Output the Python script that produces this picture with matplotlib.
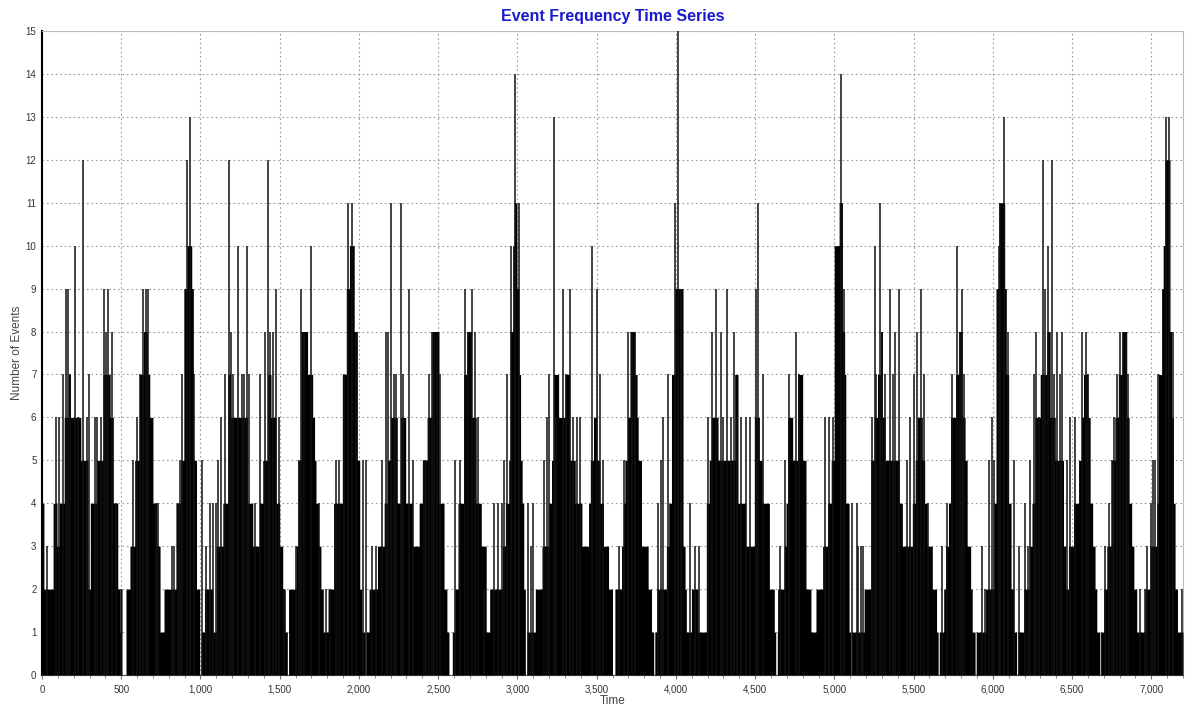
import matplotlib
matplotlib.use("Agg")
import matplotlib.pyplot as plt
from matplotlib.ticker import FuncFormatter, MultipleLocator
import numpy as np

plt.rcParams['font.family'] = ['Liberation Sans', 'DejaVu Sans']

# Solid level of the series: (time at which level starts, level)
seg_time = [
    0, 12, 70, 95, 110, 140, 165, 180, 245, 290, 305, 345, 385, 430, 450, 478, 490, 495, 505,
    530, 555, 585, 615, 640, 665, 680, 700, 725, 745, 770, 845, 875, 895, 915, 945, 955, 975, 995,
    1005, 1025, 1078, 1099, 1141, 1172, 1190, 1235, 1298, 1330, 1372, 1393, 1424, 1445, 1477, 1500, 1519, 1535, 1548,
    1556, 1603, 1615, 1634, 1676, 1708, 1720, 1729, 1745, 1760, 1775, 1805, 1840, 1895, 1920, 1940, 1970, 1990, 2005, 2018,
    2039, 2045, 2064, 2117, 2159, 2180, 2200, 2242, 2263, 2295, 2337, 2380, 2400, 2430, 2460, 2505, 2537, 2555, 2568,
    2589, 2605, 2625, 2660, 2680, 2710, 2740, 2772, 2803, 2825,
    2830, 2905, 2924, 2945, 2955, 2970, 2980, 2997, 3010, 3020, 3030, 3040, 3050, 3060, 3113, 3155, 3197, 3215, 3229,
    3260, 3300, 3330, 3365, 3407, 3449, 3460, 3480, 3501, 3520, 3543, 3575, 3600,
    3615, 3657, 3670, 3678, 3695, 3710, 3741, 3755, 3762, 3783, 3825, 3846, 3860, 3867, 3880, 3940, 3955, 3972, 3993,
    4045, 4058, 4066, 4098, 4140, 4192, 4210, 4224, 4266, 4308, 4371, 4392, 4440,
    4495, 4527, 4545, 4590, 4621, 4630, 4640, 4642, 4684, 4695, 4705, 4737, 4768, 4800, 4821, 4852, 4884, 4926, 4957,
    4980, 4999, 5030, 5051, 5065, 5072, 5093, 5102, 5108, 5188, 5230, 5251, 5272, 5290, 5303, 5320,
    5335, 5410, 5429, 5492, 5510, 5523, 5555, 5570, 5586, 5618, 5645, 5655, 5662, 5690, 5702, 5720, 5733, 5765, 5785,
    5807, 5825, 5838, 5860, 5870, 5888, 5895, 5954, 6006, 6020, 6038, 6075, 6085, 6100, 6115, 6132, 6150, 6158, 6195,
    6230, 6247, 6265,
    6299, 6341, 6362, 6394, 6446, 6460, 6477, 6509, 6541, 6560, 6572, 6600, 6614, 6630, 6645, 6656, 6675, 6680, 6700,
    6719, 6750, 6770, 6792, 6815, 6845, 6860, 6876, 6890, 6908, 6960, 6992, 7034, 7045, 7065, 7075, 7086, 7118, 7128,
    7140, 7150, 7165,
]
seg_level = [
    4, 2, 4, 3, 4, 6, 7, 6, 5, 2, 4, 5, 7, 6, 4, 2, 1, 2, 0,
    2, 3, 5, 7, 8, 7, 6, 4, 3, 1, 2, 4, 5, 9, 10, 9, 5, 2, 0,
    1, 2, 1, 3, 4, 7, 6, 6, 4, 3, 4, 5, 7, 6, 4, 3, 2, 1, 0,
    2, 3, 5, 8, 7, 6, 5, 4, 3, 2, 1, 2, 4, 7, 9, 10, 8, 5, 2, 1,
    0, 1, 2, 3, 4, 5, 6, 4, 6, 4, 3, 4, 5, 6, 8, 4, 2, 1, 0,
    1, 2, 4, 7, 8, 6, 4, 3, 1, 2,
    2, 3, 4, 5, 8, 10, 11, 9, 7, 5, 4, 2, 0, 1, 2, 3, 4, 5, 7,
    6, 7, 5, 4, 3, 4, 5, 6, 5, 4, 3, 2, 0,
    2, 3, 4, 5, 6, 8, 7, 6, 5, 3, 2, 1, 0, 1, 2, 3, 4, 7, 9,
    3, 2, 1, 2, 1, 4, 5, 6, 5, 5, 7, 4, 3,
    6, 5, 4, 2, 1, 0, 1, 2, 3, 4, 6, 5, 7, 5, 2, 1, 2, 3, 4,
    5, 10, 11, 8, 7, 4, 1, 0, 1, 2, 5, 6, 7, 8, 6, 5,
    5, 4, 3, 4, 5, 6, 5, 4, 3, 2, 1, 0, 1, 2, 3, 4, 6, 7, 8,
    6, 5, 3, 2, 1, 0, 1, 2, 4, 9, 11, 9, 7, 4, 2, 1, 0, 1, 2,
    3, 4, 6,
    7, 8, 6, 5, 3, 2, 3, 4, 5, 6, 7, 6, 4, 3, 2, 1, 0, 1, 2,
    3, 5, 6, 7, 8, 6, 4, 3, 2, 1, 2, 3, 4, 7, 9, 10, 12, 8, 6,
    4, 2, 1,
]

# Thin spikes rising above the solid level: (time, count)
spike_time = [
    29, 86, 110, 130, 151, 166, 176, 208, 225, 260, 281, 296, 334, 349, 370, 393, 405, 418, 443, 470, 500,
    575, 600, 617, 638, 655, 672, 722, 733, 820, 835, 858, 870, 885, 912, 931, 960, 1008,
    1036, 1057, 1078, 1099, 1110, 1130, 1152, 1179, 1194, 1204, 1236, 1263, 1273, 1294, 1309, 1341, 1376,
    1410, 1427, 1439, 1456, 1477, 1498, 1530,
    1600, 1620, 1634, 1655, 1697, 1750, 1795, 1815, 1854, 1871, 1905, 1928, 1955, 1980, 2028, 2043,
    2085, 2106, 2144, 2170, 2185, 2200, 2222, 2232, 2263, 2280, 2316, 2340, 2410, 2425, 2442, 2463, 2475,
    2495, 2510,
    2603, 2635, 2669, 2690, 2712, 2730, 2750, 2790,
    2850, 2880, 2903, 2915, 2935, 2960, 2987, 3012, 3065, 3085, 3100, 3170, 3185, 3197, 3231, 3245, 3290,
    3305, 3330, 3350, 3375, 3393, 3470, 3501, 3520, 3540,
    3640, 3672, 3700, 3725, 3740, 3890, 3905, 3920, 3948, 3997, 4014, 4030, 4090, 4120, 4145,
    4205, 4225, 4255, 4283, 4300, 4325, 4345, 4367, 4385, 4410, 4440, 4470, 4505, 4516, 4548,
    4660, 4690, 4715, 4758, 4780, 4940, 4965, 4990, 5045, 5060, 5110, 5140, 5150, 5165, 5180,
    5240, 5255, 5265, 5289, 5300, 5320, 5352, 5370, 5380, 5407, 5460, 5476, 5500, 5520, 5548, 5565, 5590,
    5680, 5710, 5745, 5775, 5790, 5805, 5815, 5930, 5950, 5975, 5995, 6005, 6038, 6045, 6069, 6095, 6132,
    6165, 6205, 6220, 6235, 6258, 6270, 6290, 6316, 6330, 6350, 6372, 6385, 6405, 6425, 6436, 6470, 6488,
    6520, 6560, 6585, 6600,
    6710, 6730, 6750, 6765, 6782, 6800, 6820, 6840, 6855, 6930, 6960, 6975, 7000, 7010, 7025, 7040, 7095,
    7110, 7140, 7195,
]
spike_count = [
    3, 6, 6, 7, 9, 9, 7, 10, 6, 12, 6, 7, 6, 6, 6, 9, 8, 9, 8, 4, 2,
    5, 6, 7, 9, 9, 9, 4, 4, 3, 3, 4, 5, 7, 12, 13, 7, 5,
    3, 4, 4, 4, 5, 6, 7, 12, 8, 7, 10, 7, 7, 10, 7, 4, 7,
    8, 12, 8, 8, 9, 6, 2,
    3, 5, 9, 8, 10, 4, 2, 2, 5, 5, 7, 11, 11, 8, 5, 5,
    3, 3, 5, 8, 8, 11, 7, 7, 11, 7, 9, 5, 5, 5, 7, 8, 8,
    8, 7,
    5, 5, 9, 8, 9, 8, 6, 2,
    4, 4, 4, 5, 7, 10, 14, 11, 4, 3, 4, 5, 6, 7, 13, 6, 9,
    7, 9, 6, 6, 6, 10, 9, 7, 5,
    3, 5, 8, 8, 8, 4, 5, 6, 7, 11, 15, 9, 4, 3, 3,
    6, 8, 9, 8, 6, 9, 6, 8, 6, 6, 6, 6, 9, 11, 7,
    3, 5, 7, 8, 7, 6, 6, 6, 14, 9, 4, 4, 3, 3, 3,
    6, 10, 7, 11, 8, 7, 9, 7, 8, 9, 5, 6, 7, 8, 9, 7, 4,
    3, 4, 7, 10, 8, 9, 7, 3, 2, 5, 6, 5, 10, 11, 13, 8, 5,
    3, 4, 3, 5, 7, 8, 6, 12, 9, 10, 12, 7, 8, 7, 8, 5, 6,
    6, 8, 8, 7,
    3, 4, 5, 6, 7, 8, 8, 8, 7, 2, 2, 3, 4, 5, 5, 7, 13,
    13, 8, 2,
]

x_max = 7200
y_max = 15
title = "Event Frequency Time Series"
x_label = "Time"
y_label = "Number of Events"

fig = plt.figure(figsize=(11.87, 7.06), dpi=100)
ax = fig.add_axes([42 / 1187, 1 - 675 / 706, (1183 - 42) / 1187, (675 - 31) / 706])

xs = list(seg_time) + [x_max]
ys = list(seg_level) + [seg_level[-1]]
ax.fill_between(xs, 0, ys, step='post', color='black', lw=0, zorder=3)
ax.vlines(spike_time, 0, spike_count, color='#111111', lw=1.1, zorder=3)

ax.set_xlim(0, x_max)
ax.set_ylim(0, y_max)
ax.xaxis.set_major_locator(MultipleLocator(500))
ax.xaxis.set_minor_locator(MultipleLocator(100))
ax.yaxis.set_major_locator(MultipleLocator(1))
ax.xaxis.set_major_formatter(FuncFormatter(lambda v, p: f"{int(v):,}"))
ax.grid(True, which='major', color='#9a9a9a', linestyle=(0, (1.5, 2.5)), lw=0.8, zorder=1)

ax.tick_params(axis='both', which='major', labelsize=7, length=0, pad=4, colors='#333333')
ax.tick_params(axis='x', which='minor', length=2, color='#777777')
ax.tick_params(axis='x', which='major', length=3, color='#777777')

for side in ['top', 'right']:
    ax.spines[side].set_color('#bbbbbb')
    ax.spines[side].set_linewidth(0.8)
ax.spines['left'].set_color('black')
ax.spines['left'].set_linewidth(1.5)
ax.spines['bottom'].set_color('#555555')
ax.spines['bottom'].set_linewidth(0.8)

ax.set_xlabel(x_label, fontsize=8.5, color='#444444', labelpad=0)
ax.set_ylabel(y_label, fontsize=8.5, color='#444444', labelpad=2)
fig.text(0.5 * (42 + 1183) / 1187, 1 - 16 / 706, title, ha='center', va='center',
         fontsize=11.5, fontweight='bold', color='#1a1acc')

fig.savefig("out.png", dpi=100)
